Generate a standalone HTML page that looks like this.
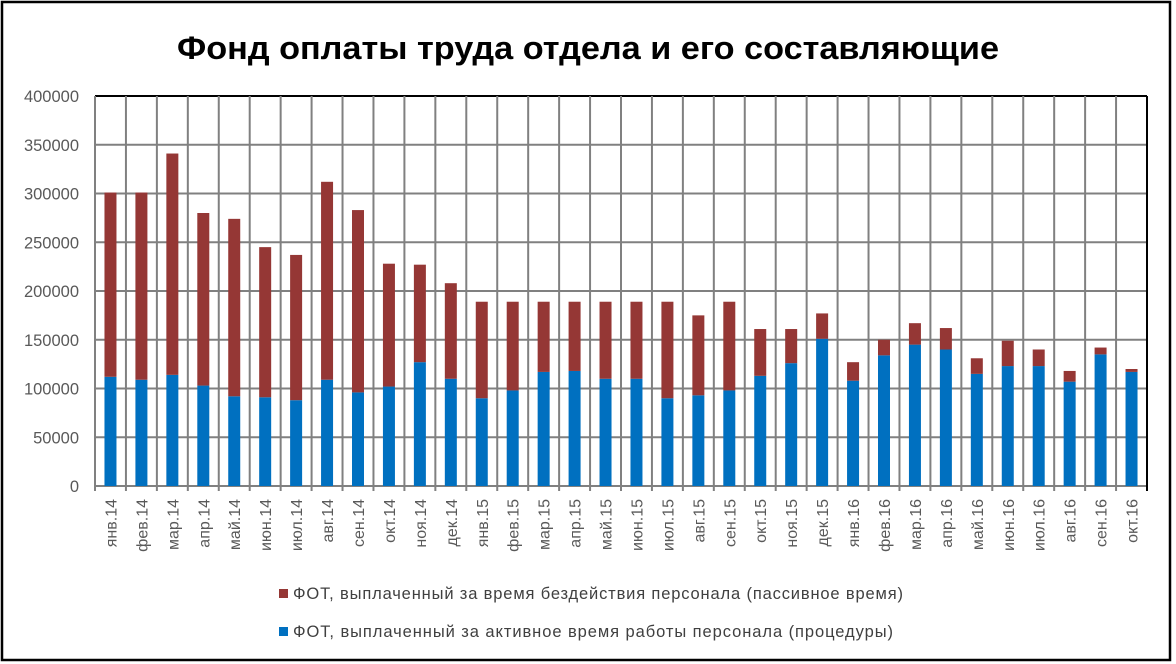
<!DOCTYPE html>
<html><head><meta charset="utf-8"><style>
body{margin:0;background:#fff;}
svg{display:block;font-family:"Liberation Sans",sans-serif;}
</style></head><body>
<svg id="chart" width="1176" height="664" viewBox="0 0 1176 664">
<rect x="2" y="2" width="1168" height="658" fill="#fff" stroke="#000" stroke-width="2.5"/>
<text x="588" y="59" text-anchor="middle" font-size="32" font-weight="bold" fill="#000" textLength="822" lengthAdjust="spacingAndGlyphs">Фонд оплаты труда отдела и его составляющие</text>
<g id="grid"></g>
<g id="bars"></g>
<g id="yaxis"></g>
<g id="xaxis"></g>
<g>
<g>
<rect x="279" y="589" width="9" height="9" fill="#953735"/>
<text x="293" y="599" font-size="16.5" fill="#404040" textLength="610">ФОТ, выплаченный за время бездействия персонала (пассивное время)</text>
</g>
<g>
<rect x="279" y="627" width="9" height="9" fill="#0070c0"/>
<text x="293" y="637" font-size="16.5" fill="#404040" textLength="600">ФОТ, выплаченный за активное время работы персонала (процедуры)</text>
</g>
</g>
</svg>
<script>
const categories=["янв.14","фев.14","мар.14","апр.14","май.14","июн.14","июл.14","авг.14","сен.14","окт.14","ноя.14","дек.14","янв.15","фев.15","мар.15","апр.15","май.15","июн.15","июл.15","авг.15","сен.15","окт.15","ноя.15","дек.15","янв.16","фев.16","мар.16","апр.16","май.16","июн.16","июл.16","авг.16","сен.16","окт.16"];
const activeValues=[112000,109000,114000,103000,92000,91000,88000,109000,96000,102000,127000,110000,90000,98000,117000,118000,110000,110000,90000,93000,98000,113000,126000,151000,108000,134000,145000,140000,115000,123000,123000,107000,135000,117000];
const passiveValues=[189000,192000,227000,177000,182000,154000,149000,203000,187000,126000,100000,98000,99000,91000,72000,71000,79000,79000,99000,82000,91000,48000,35000,26000,19000,16000,22000,22000,16000,26000,17000,11000,7000,3000];
const yTicks=[0,50000,100000,150000,200000,250000,300000,350000,400000];
const NS="http://www.w3.org/2000/svg";
const L=95,R=1147,T=96,B=486,YMAX=400000;
const y=v=>B-(v/YMAX)*(B-T);
const step=(R-L)/categories.length;
const xc=i=>L+step*(i+0.5);
function mk(tag,attrs,parent){const e=document.createElementNS(NS,tag);for(const k in attrs)e.setAttribute(k,attrs[k]);parent.appendChild(e);return e;}
const grid=document.getElementById('grid'),bars=document.getElementById('bars'),ya=document.getElementById('yaxis'),xa=document.getElementById('xaxis');
yTicks.forEach(t=>{
  const ln=mk('line',{x1:L,x2:R,y1:y(t),y2:y(t),stroke:t===YMAX?'#000':'#808080','stroke-width':2},grid);
  
  
  const tx=mk('text',{x:79,y:y(t)+6,'text-anchor':'end','font-size':'16.5',fill:'#595959'},ya);
  tx.textContent=t;
  
  
});
for(let i=0;i<=categories.length;i++){
  const x=L+step*i;
  const ln=mk('line',{x1:x,x2:x,y1:T,y2:B+5,stroke:i===categories.length?'#000':'#808080','stroke-width':2},grid);
  
  
}
const bw=12;
categories.forEach((c,i)=>{
  const a=activeValues[i],p=passiveValues[i];
  const b1=mk('rect',{x:xc(i)-bw/2,y:y(a),width:bw,height:B-y(a),fill:'#0070c0'},bars);
  
  
  const b2=mk('rect',{x:xc(i)-bw/2,y:y(a+p),width:bw,height:y(a)-y(a+p),fill:'#953735'},bars);
  
  
  const tx=mk('text',{x:0,y:0,'text-anchor':'end','font-size':'16',fill:'#595959',transform:`translate(${xc(i)+6},499) rotate(-90)`},xa);
  tx.textContent=c;
  
  
});
</script>
</body></html>
